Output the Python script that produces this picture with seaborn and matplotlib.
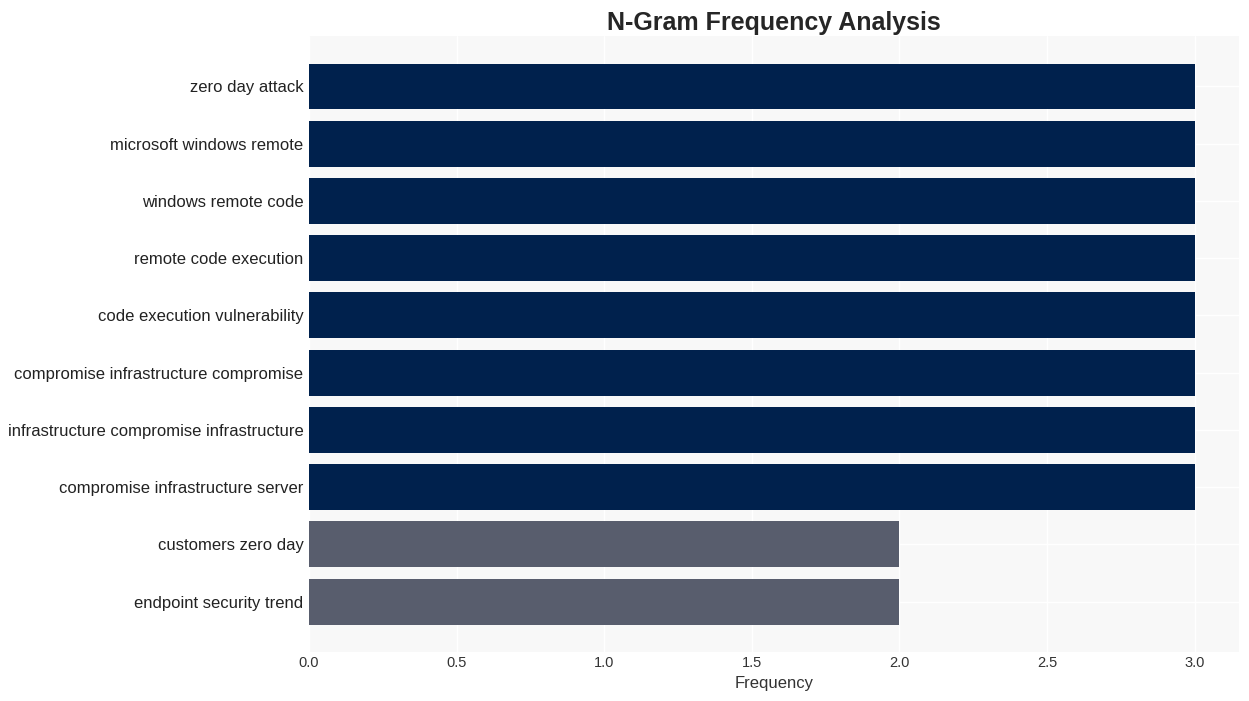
import matplotlib
matplotlib.use("Agg")
import matplotlib.pyplot as plt
import seaborn as sns
import pandas as pd

# data
ngrams = [
    "zero day attack",
    "microsoft windows remote",
    "windows remote code",
    "remote code execution",
    "code execution vulnerability",
    "compromise infrastructure compromise",
    "infrastructure compromise infrastructure",
    "compromise infrastructure server",
    "customers zero day",
    "endpoint security trend",
]
counts = [3, 3, 3, 3, 3, 3, 3, 3, 2, 2]

df = pd.DataFrame({"ngram": ngrams, "count": counts})
top_color = "#00214d"
low_color = "#585d6d"
palette = {n: (top_color if c == max(counts) else low_color) for n, c in zip(ngrams, counts)}

sns.set_style("whitegrid", {
    "axes.facecolor": "#f8f8f8",
    "grid.color": "white",
    "axes.edgecolor": "#f8f8f8",
})
plt.rcParams["font.family"] = ["Liberation Sans", "DejaVu Sans"]

fig = plt.figure(figsize=(12.49, 7.01), dpi=100)
ax = fig.add_axes([0.2474, 0.0699, 0.7446, 0.8787])

sns.barplot(data=df, x="count", y="ngram", hue="ngram", palette=palette,
            legend=False, width=0.8, saturation=1, linewidth=0, ax=ax)

ax.set_xlim(0, 3.15)
ax.set_ylim(9.88, -0.88)
ax.set_xticks([0, 0.5, 1.0, 1.5, 2.0, 2.5, 3.0])
ax.set_xticklabels(["0.0", "0.5", "1.0", "1.5", "2.0", "2.5", "3.0"])
ax.tick_params(axis="x", labelsize=10.5, colors="#333333", length=0, pad=3)
ax.tick_params(axis="y", labelsize=12, colors="#222222", length=0, pad=4)
for s in ax.spines.values():
    s.set_visible(False)
ax.grid(True, axis="both", color="white", linewidth=1)

ax.set_xlabel("Frequency", fontsize=12, color="#333333", labelpad=4)
ax.set_ylabel("")
ax.set_title("N-Gram Frequency Analysis", fontsize=18, fontweight="bold", pad=4)

fig.savefig("out.png", dpi=100)
